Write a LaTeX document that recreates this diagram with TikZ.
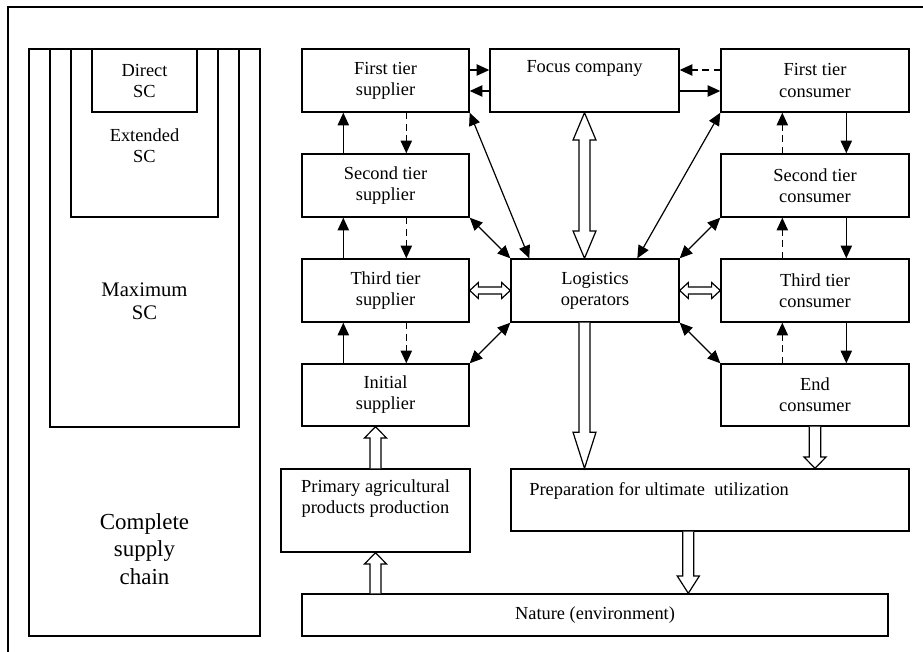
\documentclass[tikz,border=0pt]{standalone}
\usepackage{fontspec}
\setmainfont{Liberation Serif}
\usetikzlibrary{arrows.meta,calc}
\newcommand\hollowone[5]{%
  \coordinate (hC) at ($(#2)!#5!(#1)$);
  \draw[hol] ($(#1)!#3!90:(#2)$) -- ($(hC)!#3!90:(#2)$) -- ($(hC)!#4!90:(#2)$) -- (#2) -- ($(hC)!#4!-90:(#2)$) -- ($(hC)!#3!-90:(#2)$) -- ($(#1)!#3!-90:(#2)$);}
\newcommand\hollowtwo[5]{%
  \coordinate (hC) at ($(#2)!#5!(#1)$);
  \coordinate (hD) at ($(#1)!#5!(#2)$);
  \draw[hol] (#1) -- ($(hD)!#4!90:(#2)$) -- ($(hD)!#3!90:(#2)$) -- ($(hC)!#3!90:(#2)$) -- ($(hC)!#4!90:(#2)$) -- (#2) -- ($(hC)!#4!-90:(#2)$) -- ($(hC)!#3!-90:(#2)$) -- ($(hD)!#3!-90:(#2)$) -- ($(hD)!#4!-90:(#2)$) -- cycle;}
\begin{document}
\begin{tikzpicture}[x=0.75pt,y=-0.75pt,
  bx/.style n args={2}{draw,line width=1.05pt,inner sep=0pt,align=center,
     minimum width=#1*0.75pt,minimum height=#2*0.75pt,
     font=\fontsize{13.8}{15.8}\selectfont},
  lbl/.style={inner sep=0pt,align=center,font=\fontsize{13.8}{15.8}\selectfont},
  arr/.style={line width=0.9pt,-{Triangle[length=9.5pt,width=8.5pt]}},
  darr/.style={line width=0.9pt,{Triangle[length=9.5pt,width=8.5pt]}-{Triangle[length=9.5pt,width=8.5pt]}},
  dsh/.style={dash pattern=on 5pt off 3.5pt},
  hol/.style={draw,line width=0.9pt,fill=white,line join=miter}]
\useasboundingbox (0,0) rectangle (923,652);
% outer frame
\coordinate (fr1) at (923,7);
\coordinate (fr2) at (8,7);
\coordinate (fr3) at (8,652);
\draw[line width=0.9pt] (fr1) -- (fr2) -- (fr3);
% left nested boxes
\node[bx={231}{587}] (comp) at (144.5,342.5) {};
\node[bx={189}{378}] (maxsc) at (144.5,238) {};
\node[bx={147}{168}] (extsc) at (144.5,133) {};
\node[bx={105}{63}] (dirsc) at (144.5,80.5) {};
\node[lbl] (tdir) at (144.5,81) {Direct\\SC};
\node[lbl] (text) at (144.5,146) {Extended\\SC};
\node[lbl,font=\fontsize{15.5}{17.3}\selectfont] (tmax) at (144.5,301) {Maximum\\SC};
\node[lbl,font=\fontsize{17.2}{20.6}\selectfont] (tcomp) at (144.5,549) {Complete\\supply\\chain};
% right boxes
\node[bx={167}{63}] (fts) at (385.5,80.5) {First tier\\supplier};
\node[bx={189}{63}] (focus) at (584.5,80.5) {Focus company\\\strut};
\node[bx={188}{63}] (ftc) at (815,80.5) {First tier\\consumer};
\node[bx={167}{63}] (sts) at (385.5,185.5) {Second tier\\supplier};
\node[bx={188}{63}] (stc) at (815,185.5) {Second tier\\consumer};
\node[bx={167}{63}] (tts) at (385.5,290.5) {Third tier\\supplier};
\node[bx={168}{63}] (log) at (595,290.5) {Logistics\\operators};
\node[bx={188}{63}] (ttc) at (815,290.5) {Third tier\\consumer};
\node[bx={167}{62}] (init) at (385.5,395) {Initial\\supplier};
\node[bx={188}{62}] (endc) at (815,395) {End\\consumer};
\node[bx={189}{83}] (prim) at (375.5,510.5) {Primary agricultural\\products production\\\strut};
\node[bx={398}{62}] (prep) at (710,500) {};
\node[lbl,anchor=base west] (tprep) at (529,495) {Preparation for ultimate \ utilization};
\node[bx={586}{42}] (nat) at (595,615) {Nature (environment)};
% focus <-> first tier
\draw[arr] ($(fts.east)+(0,-10.5)$) -- ($(focus.west)+(0,-10.5)$);
\draw[arr] ($(focus.west)+(0,10.5)$) -- ($(fts.east)+(0,10.5)$);
\draw[arr,dsh] ($(ftc.west)+(0,-10.5)$) -- ($(focus.east)+(0,-10.5)$);
\draw[arr] ($(focus.east)+(0,10.5)$) -- ($(ftc.west)+(0,10.5)$);
% supplier column
\draw[arr] ($(sts.north west)+(42,0)$) -- ($(fts.south west)+(42,0)$);
\draw[arr,dsh] ($(fts.south west)+(105,0)$) -- ($(sts.north west)+(105,0)$);
\draw[arr] ($(tts.north west)+(42,0)$) -- ($(sts.south west)+(42,0)$);
\draw[arr,dsh] ($(sts.south west)+(105,0)$) -- ($(tts.north west)+(105,0)$);
\draw[arr] ($(init.north west)+(42,0)$) -- ($(tts.south west)+(42,0)$);
\draw[arr,dsh] ($(tts.south west)+(105,0)$) -- ($(init.north west)+(105,0)$);
% consumer column
\draw[arr,dsh] ($(stc.north west)+(62,0)$) -- ($(ftc.south west)+(62,0)$);
\draw[arr] ($(ftc.south west)+(126,0)$) -- ($(stc.north west)+(126,0)$);
\draw[arr,dsh] ($(ttc.north west)+(62,0)$) -- ($(stc.south west)+(62,0)$);
\draw[arr] ($(stc.south west)+(126,0)$) -- ($(ttc.north west)+(126,0)$);
\draw[arr,dsh] ($(endc.north west)+(62,0)$) -- ($(ttc.south west)+(62,0)$);
\draw[arr] ($(ttc.south west)+(126,0)$) -- ($(endc.north west)+(126,0)$);
% diagonals to logistics
\draw[darr] (fts.south east) -- ($(log.north west)+(19,0)$);
\draw[darr] (sts.south east) -- (log.north west);
\draw[darr] (init.north east) -- (log.south west);
\draw[darr] (ftc.south west) -- ($(log.north west)+(127,0)$);
\draw[darr] (stc.south west) -- (log.north east);
\draw[darr] (endc.north west) -- (log.south east);
% hollow arrows
\coordinate (lgtop) at (focus.south |- log.north);
\coordinate (lgbot) at (focus.south |- log.south);
\coordinate (prtop) at (focus.south |- prep.north);
\coordinate (ectop) at (endc.south |- prep.north);
\coordinate (pbot) at ($(prep.south west)+(178,0)$);
\coordinate (ntop) at (pbot |- nat.north);
\coordinate (nleft) at (prim.south |- nat.north);
\coordinate (itop) at (prim.north |- init.south);
\hollowtwo{tts.east}{log.west}{2.6pt}{6pt}{6.5pt}
\hollowtwo{log.east}{ttc.west}{2.6pt}{6pt}{6.5pt}
\hollowtwo{focus.south}{lgtop}{4.1pt}{8.6pt}{20.5pt}
\hollowone{lgbot}{prtop}{4.1pt}{8.6pt}{27pt}
\hollowone{endc.south}{ectop}{4.3pt}{8.3pt}{8.5pt}
\hollowone{pbot}{ntop}{4.1pt}{8.3pt}{13pt}
\hollowone{nleft}{prim.south}{4.1pt}{8.3pt}{8.5pt}
\hollowone{prim.north}{itop}{4.1pt}{8.3pt}{8.5pt}
\end{tikzpicture}
\end{document}
